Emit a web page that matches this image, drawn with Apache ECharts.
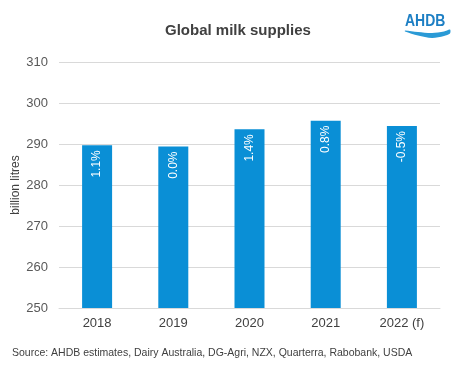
<!DOCTYPE html>
<html><head><meta charset="utf-8">
<script src="https://cdn.jsdelivr.net/npm/echarts@6/dist/echarts.min.js"></script>
<style>html,body{margin:0;padding:0;background:#fff}#c{width:475px;height:374px}</style>
</head><body><div id="c"></div>
<script>
const categories = ['2018', '2019', '2020', '2021', '2022 (f)'];
const supplies = [289.7, 289.4, 293.6, 295.7, 294.4];
const changeLabels = ['1.1%', '0.0%', '1.4%', '0.8%', '-0.5%'];
const yTicks = [250, 260, 270, 280, 290, 300, 310];

const chart = echarts.init(document.getElementById('c'), null, {renderer: 'canvas'});
chart.setOption({
  animation: false,
  backgroundColor: '#fff',
  textStyle: {fontFamily: 'Liberation Sans, Arial, sans-serif'},
  title: {
    text: 'Global milk supplies', left: 160, top: 18,
    textStyle: {fontSize: 15, fontWeight: 'bold', color: '#404040', fontFamily: 'Liberation Sans, Arial, sans-serif'}
  },
  grid: {left: 59, right: 35, top: 62, bottom: 66, containLabel: false, outerBoundsMode: 'none'},
  xAxis: {
    type: 'category', data: categories,
    axisLine: {show: true, lineStyle: {color: '#d9d9d9'}},
    axisTick: {show: false},
    axisLabel: {color: '#404040', fontSize: 13, margin: 9}
  },
  yAxis: {
    type: 'value', min: yTicks[0], max: yTicks[yTicks.length - 1], interval: 10,
    name: 'billion litres', nameLocation: 'middle', nameGap: 37, nameRotate: 90,
    nameMoveOverlap: false,
    nameTextStyle: {color: '#404040', fontSize: 12},
    axisLine: {show: false}, axisTick: {show: false},
    axisLabel: {color: '#595959', fontSize: 13, margin: 11},
    splitLine: {lineStyle: {color: '#d9d9d9', width: 1}}
  },
  series: [{
    type: 'bar', data: supplies, barWidth: 30,
    itemStyle: {color: '#0a8fd6'},
    label: {
      show: true, position: 'insideTop', rotate: 90, distance: 5,
      align: 'right', verticalAlign: 'middle',
      color: '#fff', fontSize: 12,
      formatter: p => changeLabels[p.dataIndex]
    }
  }],
  graphic: [
    {type: 'text', x: 12, y: 348, style: {text: 'Source: AHDB estimates, Dairy Australia, DG-Agri, NZX, Quarterra, Rabobank, USDA', fill: '#404040', fontSize: 10.5, fontFamily: 'Liberation Sans, Arial, sans-serif'}},
    {type: 'text', x: 405, y: 13, scaleX: 0.82, style: {text: 'AHDB', fill: '#1d7fc4', fontSize: 17, fontWeight: 'bold', fontFamily: 'Liberation Sans, Arial, sans-serif'}},
    {type: 'polygon', shape: {smooth: 0.3, points: [[405,30.5],[418,32],[432,33],[444,31.5],[450,29.5],[450,33.5],[444,36],[432,38],[418,35.5],[405,31.5]]}, style: {fill: '#2a9ad6'}}
  ]
});
</script></body></html>
